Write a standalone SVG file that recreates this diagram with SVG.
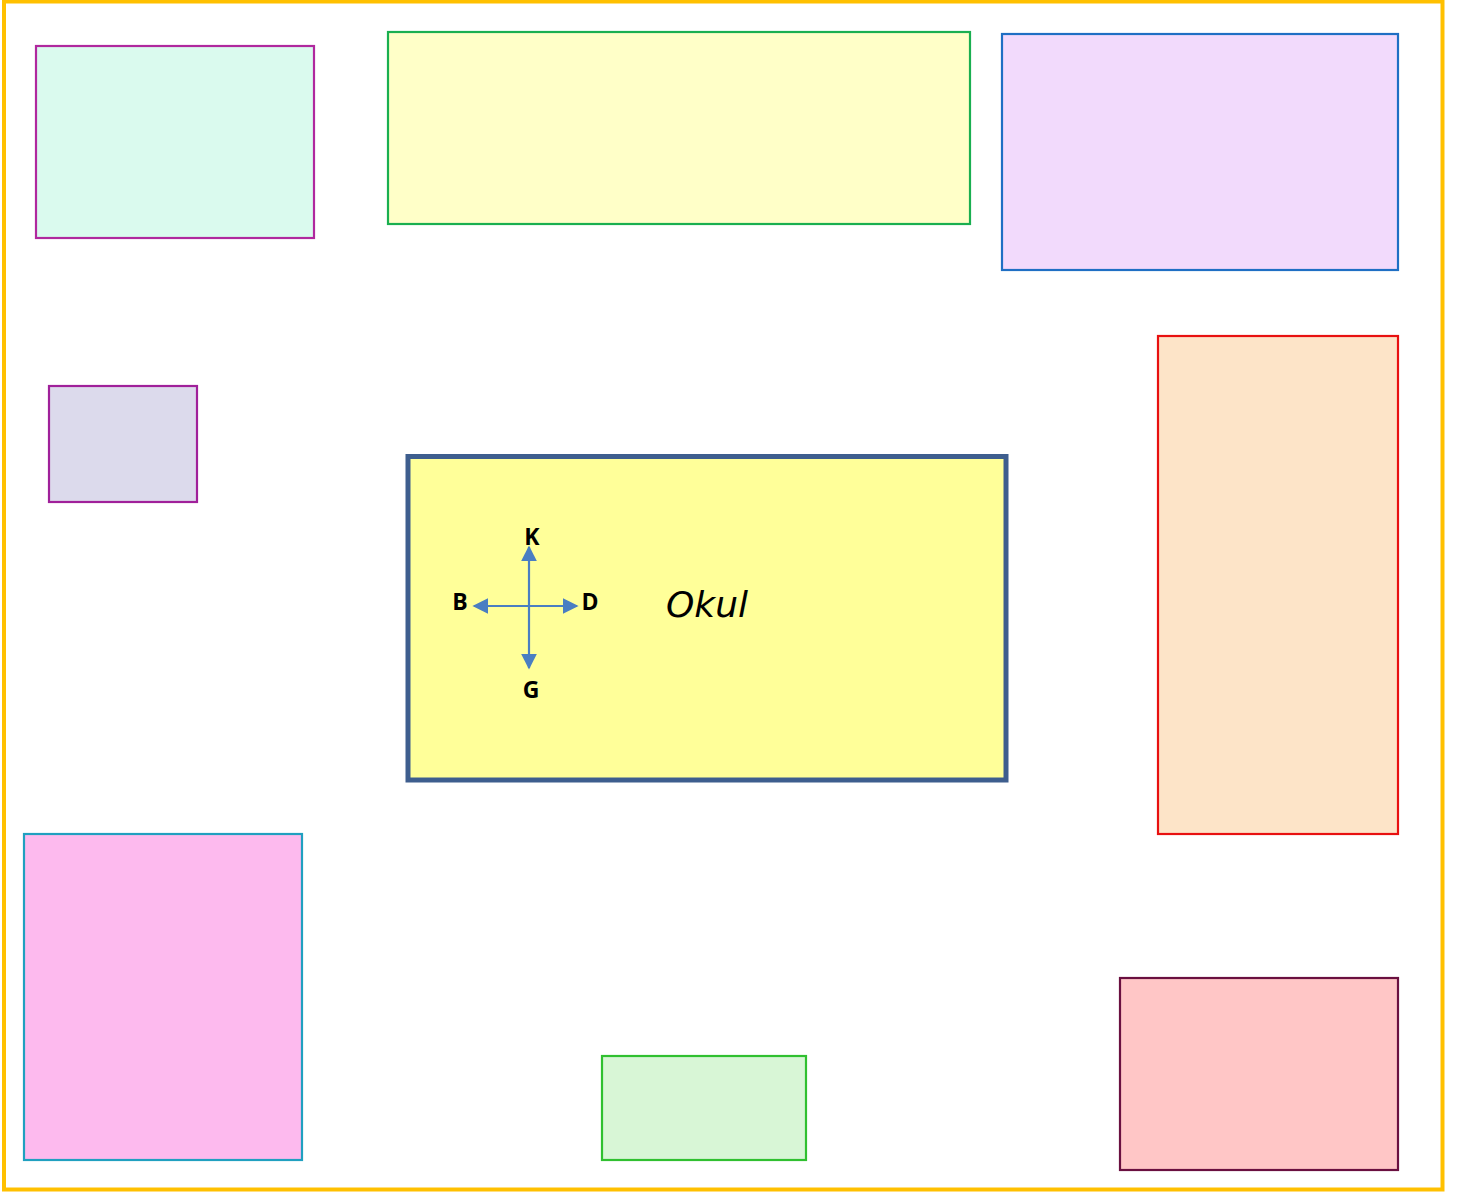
<svg xmlns="http://www.w3.org/2000/svg" width="1458" height="1192" viewBox="0 0 1458 1192">
<defs>
<style>
.bx{stroke-width:2.2}
.lbl{font-family:"Open Sans","Liberation Sans",sans-serif;font-weight:bold;font-size:23px;text-anchor:middle;fill:#000}
.ax{stroke:#4A7EC2;stroke-width:2.2;fill:none}
</style>
<marker id="ah" viewBox="0 0 10 10" refX="9" refY="5" markerWidth="16" markerHeight="16" markerUnits="userSpaceOnUse" orient="auto">
<path d="M0,0 L10,5 L0,10 Z" fill="#4A7EC2"/>
</marker>
</defs>
<rect x="0" y="0" width="1458" height="1192" fill="#fff"/>
<rect id="frame" x="4" y="1.5" width="1438.5" height="1188" fill="none" stroke="#FFC000" stroke-width="4"/>
<g id="n1"><rect class="bx" x="36" y="46" width="278" height="192" fill="#DAFAEE" stroke="#B0289E"/></g>
<g id="n2"><rect class="bx" x="388" y="32" width="582" height="192" fill="#FFFFC8" stroke="#1AAF50"/></g>
<g id="n3"><rect class="bx" x="1002" y="34" width="396" height="236" fill="#F2DAFC" stroke="#1F6FC4"/></g>
<g id="n4"><rect class="bx" x="49" y="386" width="148" height="116" fill="#DCDAEC" stroke="#A0209A"/></g>
<g id="n5"><rect class="bx" x="1158" y="336" width="240" height="498" fill="#FDE4C8" stroke="#E81010"/></g>
<g id="n6"><rect class="bx" x="24" y="834" width="278" height="326" fill="#FDBAEE" stroke="#20A0C0"/></g>
<g id="n7"><rect class="bx" x="602" y="1056" width="204" height="104" fill="#D8F6D6" stroke="#30C030"/></g>
<g id="n8"><rect class="bx" x="1120" y="978" width="278" height="192" fill="#FFC6C6" stroke="#6A1040"/></g>
<g id="okul">
<rect x="408" y="456.5" width="598" height="323.5" fill="#FFFF99" stroke="#3E5E8E" stroke-width="5"/>
<text x="707" y="617" font-family="'DejaVu Sans',sans-serif" font-style="italic" font-size="36" text-anchor="middle" fill="#000">Okul</text>
</g>
<g id="connectors">
<line class="ax" x1="529" y1="606" x2="529" y2="547" marker-end="url(#ah)"/>
<line class="ax" x1="529" y1="606" x2="529" y2="668" marker-end="url(#ah)"/>
<line class="ax" x1="529" y1="606" x2="474" y2="606" marker-end="url(#ah)"/>
<line class="ax" x1="529" y1="606" x2="577" y2="606" marker-end="url(#ah)"/>
</g>
<g id="labels">
<text class="lbl" x="532" y="545">K</text>
<text class="lbl" x="460" y="610">B</text>
<text class="lbl" x="590" y="610">D</text>
<text class="lbl" x="531" y="698">G</text>
</g>
</svg>
